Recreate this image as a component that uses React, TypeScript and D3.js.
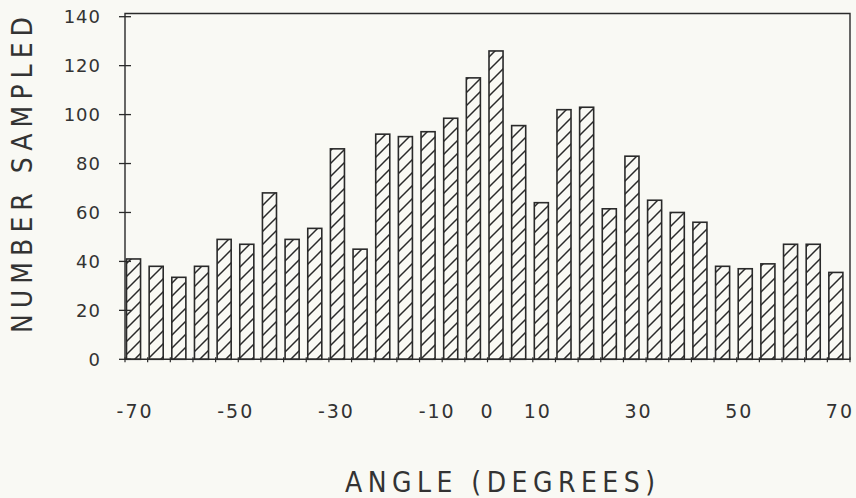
import React from "react";
import * as d3 from "d3";

// Bin lower edges (degrees), 4.5° wide bins
const binStarts = [
  -72, -67.5, -63, -58.5, -54, -49.5, -45, -40.5, -36, -31.5, -27, -22.5, -18, -13.5, -9, -4.5,
  0, 4.5, 9, 13.5, 18, 22.5, 27, 31.5, 36, 40.5, 45, 49.5, 54, 58.5, 63, 67.5,
];
const binWidthDeg = 4.5;
const counts = [
  41, 38, 33.5, 38, 49, 47, 68, 49, 53.5, 86, 45, 92, 91, 93, 98.5, 115,
  126, 95.5, 64, 102, 103, 61.5, 83, 65, 60, 56, 38, 37, 39, 47, 47, 35.5,
];
const xTickValues = [-70, -50, -30, -10, 0, 10, 30, 50, 70];
const yTickValues = [0, 20, 40, 60, 80, 100, 120, 140];
const xTitle = "ANGLE (DEGREES)";
const yTitle = "NUMBER SAMPLED";

const W = 856;
const H = 498;
const INK = "#2a2a2a";
const FONT = "'DejaVu Sans', sans-serif";
const TITLE_FONT = "'DejaVu Sans Condensed', 'DejaVu Sans', sans-serif";

export default function App() {
  const left = 125;
  const right = 850;
  const x = d3.scaleLinear().domain([-72, 72]).range([left, right]);
  const y = d3.scaleLinear().domain([0, 140]).range([359.3, 16.7]);
  const top = 13.5;
  const bottom = y(0);
  const edges = [...binStarts, binStarts[binStarts.length - 1] + binWidthDeg];

  return (
    <svg
      width={W}
      height={H}
      style={{ position: "fixed", left: 0, top: 0, display: "block" }}
      xmlns="http://www.w3.org/2000/svg"
    >
      <defs>
        <pattern id="hatch" patternUnits="userSpaceOnUse" width={13} height={13}>
          <path
            d="M0,13 L13,0 M-2,2 L2,-2 M11,15 L15,11"
            stroke={INK}
            strokeWidth={1.5}
          />
        </pattern>
      </defs>
      <rect x={0} y={0} width={W} height={H} fill="#f9f9f4" />

      {/* bars */}
      {counts.map((c, i) => {
        const x0 = x(binStarts[i]);
        const bw = (x(binStarts[i] + binWidthDeg) - x0) * 0.62;
        return (
          <rect
            key={i}
            x={x0 + 1.5}
            y={y(c)}
            width={bw}
            height={bottom - y(c)}
            fill="url(#hatch)"
            stroke={INK}
            strokeWidth={1.6}
          />
        );
      })}

      {/* frame */}
      <path
        d={`M${left},${bottom} L${left},${top} L${right},${top} L${right},${bottom} Z`}
        fill="none"
        stroke={INK}
        strokeWidth={1.4}
      />

      {/* y ticks */}
      {yTickValues.map((v) => (
        <g key={v}>
          <line x1={left - 6} x2={left + 6} y1={y(v)} y2={y(v)} stroke={INK} strokeWidth={1.3} />
          <text
            x={101}
            y={y(v) + 6.5}
            textAnchor="end"
            fontFamily={FONT}
            fontSize={18}
            fill="#333"
            letterSpacing={1}
          >
            {v}
          </text>
        </g>
      ))}

      {/* x bin edge ticks */}
      {edges.map((e, i) => (
        <line key={i} x1={x(e)} x2={x(e)} y1={bottom - 2} y2={bottom + 3} stroke={INK} strokeWidth={1.2} />
      ))}

      {/* x tick labels */}
      {xTickValues.map((v) => (
        <text
          key={v}
          x={x(v)}
          y={418}
          textAnchor="middle"
          fontFamily={FONT}
          fontSize={19}
          fill="#333"
          letterSpacing={2}
        >
          {v}
        </text>
      ))}

      {/* axis titles */}
      <text
        x={500}
        y={492}
        textAnchor="middle"
        fontFamily={TITLE_FONT}
        fontSize={28}
        fill="#333"
        textLength={310}
        lengthAdjust="spacing"
      >
        {xTitle}
      </text>
      <text
        transform={`translate(32,175) rotate(-90)`}
        textAnchor="middle"
        fontFamily={TITLE_FONT}
        fontSize={28}
        fill="#333"
        textLength={316}
        lengthAdjust="spacing"
      >
        {yTitle}
      </text>
    </svg>
  );
}
